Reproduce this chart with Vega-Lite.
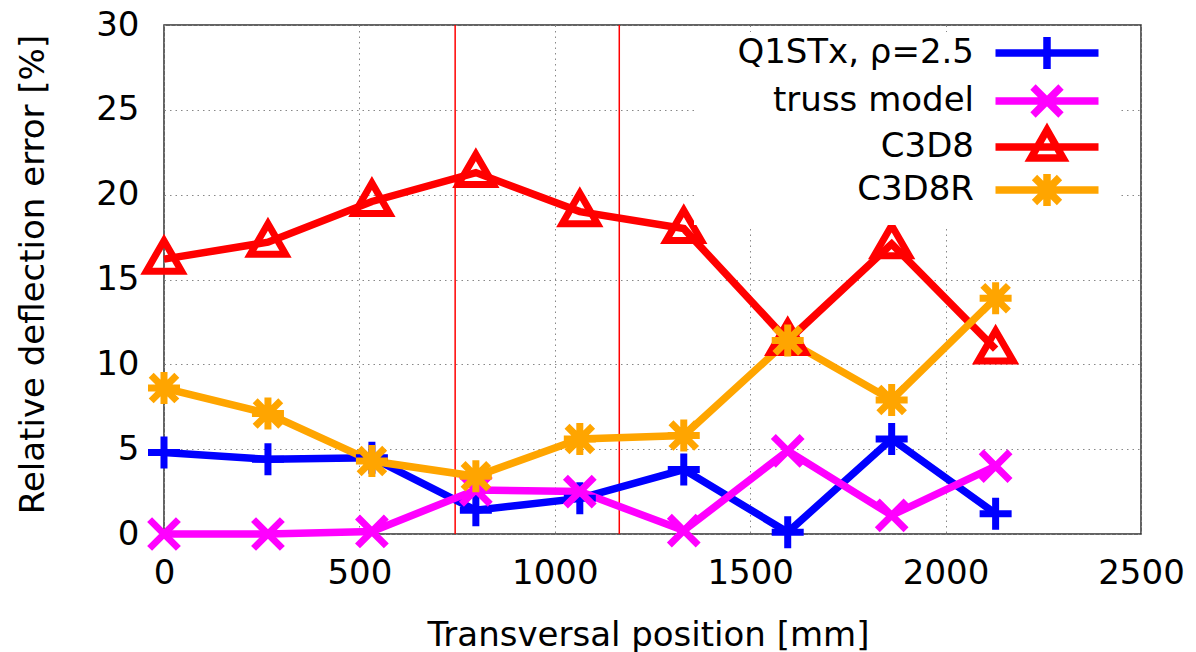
{
  "$schema": "https://vega.github.io/schema/vega-lite/v6.json",
  "width": 977,
  "height": 509,
  "autosize": {"type": "none"},
  "padding": {"left": 164, "top": 25, "right": 55, "bottom": 118},
  "background": "white",
  "config": {
    "view": {"stroke": "#303030", "strokeWidth": 1.5},
    "font": "DejaVu Sans"
  },
  "datasets": {
    "series": [
      {"pos": 0, "err": 4.8, "series": "Q1STx, ρ=2.5"},
      {"pos": 266, "err": 4.4, "series": "Q1STx, ρ=2.5"},
      {"pos": 532, "err": 4.5, "series": "Q1STx, ρ=2.5"},
      {"pos": 798, "err": 1.4, "series": "Q1STx, ρ=2.5"},
      {"pos": 1064, "err": 2.1, "series": "Q1STx, ρ=2.5"},
      {"pos": 1330, "err": 3.8, "series": "Q1STx, ρ=2.5"},
      {"pos": 1596, "err": 0.1, "series": "Q1STx, ρ=2.5"},
      {"pos": 1862, "err": 5.6, "series": "Q1STx, ρ=2.5"},
      {"pos": 2128, "err": 1.2, "series": "Q1STx, ρ=2.5"},
      {"pos": 0, "err": 0.0, "series": "truss model"},
      {"pos": 266, "err": 0.0, "series": "truss model"},
      {"pos": 532, "err": 0.15, "series": "truss model"},
      {"pos": 798, "err": 2.6, "series": "truss model"},
      {"pos": 1064, "err": 2.5, "series": "truss model"},
      {"pos": 1330, "err": 0.2, "series": "truss model"},
      {"pos": 1596, "err": 4.9, "series": "truss model"},
      {"pos": 1862, "err": 1.1, "series": "truss model"},
      {"pos": 2128, "err": 4.0, "series": "truss model"},
      {"pos": 0, "err": 16.2, "series": "C3D8"},
      {"pos": 266, "err": 17.2, "series": "C3D8"},
      {"pos": 532, "err": 19.6, "series": "C3D8"},
      {"pos": 798, "err": 21.3, "series": "C3D8"},
      {"pos": 1064, "err": 19.0, "series": "C3D8"},
      {"pos": 1330, "err": 18.0, "series": "C3D8"},
      {"pos": 1596, "err": 11.4, "series": "C3D8"},
      {"pos": 1862, "err": 17.1, "series": "C3D8"},
      {"pos": 2128, "err": 10.9, "series": "C3D8"},
      {"pos": 0, "err": 8.6, "series": "C3D8R"},
      {"pos": 266, "err": 7.1, "series": "C3D8R"},
      {"pos": 532, "err": 4.3, "series": "C3D8R"},
      {"pos": 798, "err": 3.4, "series": "C3D8R"},
      {"pos": 1064, "err": 5.6, "series": "C3D8R"},
      {"pos": 1330, "err": 5.8, "series": "C3D8R"},
      {"pos": 1596, "err": 11.4, "series": "C3D8R"},
      {"pos": 1862, "err": 7.9, "series": "C3D8R"},
      {"pos": 2128, "err": 13.9, "series": "C3D8R"}
    ],
    "marks": [
      {"pos": 745},
      {"pos": 1165}
    ]
  },
  "encoding": {
    "x": {
      "field": "pos", "type": "quantitative",
      "scale": {"domain": [0, 2500], "nice": false, "zero": false},
      "axis": {
        "title": "Transversal position [mm]",
        "values": [0, 500, 1000, 1500, 2000, 2500],
        "format": "d",
        "grid": true, "gridDash": [1.5, 4], "gridColor": "#888888", "gridWidth": 1,
        "domain": false, "ticks": false,
        "labelFontSize": 34, "labelColor": "black", "labelPadding": 22, "labelFlush": false,
        "titleFontSize": 34, "titleFontWeight": "normal", "titleColor": "black",
        "titleX": 484, "titleY": 111, "titleBaseline": "alphabetic"
      }
    }
  },
  "layer": [
    {
      "data": {"name": "marks"},
      "mark": {"type": "rule", "color": "#ff0000", "strokeWidth": 1.5},
      "encoding": {}
    },
    {
      "data": {"name": "series"},
      "mark": {"type": "line", "strokeWidth": 7.5, "strokeJoin": "miter"},
      "encoding": {
        "y": {
          "field": "err", "type": "quantitative",
          "scale": {"domain": [0, 30], "nice": false},
          "axis": {
            "title": "Relative deflection error [%]",
            "values": [0, 5, 10, 15, 20, 25, 30],
            "grid": true, "gridDash": [1.5, 4], "gridColor": "#888888", "gridWidth": 1,
            "domain": false, "ticks": false,
            "labelFontSize": 34, "labelColor": "black", "labelPadding": 25, "labelFlush": false,
            "titleFontSize": 34, "titleFontWeight": "normal", "titleColor": "black",
            "titleX": -121, "titleY": 249, "titleAngle": 270, "titleBaseline": "alphabetic", "titleAlign": "center"
          }
        },
        "color": {
          "field": "series", "type": "nominal",
          "scale": {
            "domain": ["Q1STx, ρ=2.5", "truss model", "C3D8", "C3D8R"],
            "range": ["#0000ff", "#ff00ff", "#ff0000", "#ffa500"]
          },
          "legend": {
            "title": null,
            "orient": "none",
            "legendX": 530,
            "legendY": 7,
            "direction": "vertical",
            "fillColor": "white",
            "padding": 4,
            "symbolSize": 100,
            "symbolOffset": 332,
            "symbolStrokeWidth": 7.5,
            "labelFontSize": 34,
            "labelBaseline": "middle",
            "labelColor": "black",
            "labelAlign": "right",
            "labelOffset": -90,
            "labelLimit": 0,
            "rowPadding": -28,
            "encode": {
              "symbols": {
                "update": {
                  "shape": {"signal": "datum.value === 'C3D8' ? 'M-10.3,0H10.3M0,-3.4L3.2,2.2H-3.2Z' : datum.value === 'C3D8R' ? 'M-10.3,0H10.3M0,-3.2V3.2M-2.5,-2.5L2.5,2.5M-2.5,2.5L2.5,-2.5' : datum.value === 'truss model' ? 'M-10.3,0H10.3M-2.8,-2.8L2.8,2.8M-2.8,2.8L2.8,-2.8' : 'M-10.3,0H10.3M0,-3.2V3.2'"},
                  "fill": {"value": "transparent"}
                }
              }
            }
          }
        },
        "order": {"field": "pos", "type": "quantitative"}
      }
    },
    {
      "data": {"name": "series"},
      "transform": [{"filter": "datum.series === 'Q1STx, ρ=2.5'"}],
      "mark": {"type": "point", "filled": false, "strokeWidth": 7, "size": 1024, "opacity": 1, "shape": "M-1,0H1M0,-1V1"},
      "encoding": {
        "y": {"field": "err", "type": "quantitative", "scale": {"domain": [0, 30], "nice": false}},
        "color": {"field": "series", "type": "nominal", "legend": null}
      }
    },
    {
      "data": {"name": "series"},
      "transform": [{"filter": "datum.series === 'truss model'"}],
      "mark": {"type": "point", "filled": false, "strokeWidth": 7, "size": 1024, "opacity": 1, "shape": "M-0.9,-0.9L0.9,0.9M-0.9,0.9L0.9,-0.9"},
      "encoding": {
        "y": {"field": "err", "type": "quantitative", "scale": {"domain": [0, 30], "nice": false}},
        "color": {"field": "series", "type": "nominal", "legend": null}
      }
    },
    {
      "data": {"name": "series"},
      "transform": [{"filter": "datum.series === 'C3D8'"}],
      "mark": {"type": "point", "filled": false, "strokeWidth": 7, "size": 1024, "opacity": 1, "shape": "M0,-1.15L1.1,0.75H-1.1Z"},
      "encoding": {
        "y": {"field": "err", "type": "quantitative", "scale": {"domain": [0, 30], "nice": false}},
        "color": {"field": "series", "type": "nominal", "legend": null}
      }
    },
    {
      "data": {"name": "series"},
      "transform": [{"filter": "datum.series === 'C3D8R'"}],
      "mark": {"type": "point", "filled": false, "strokeWidth": 7, "size": 1024, "opacity": 1, "shape": "M-1,0H1M0,-1V1M-0.8,-0.8L0.8,0.8M-0.8,0.8L0.8,-0.8"},
      "encoding": {
        "y": {"field": "err", "type": "quantitative", "scale": {"domain": [0, 30], "nice": false}},
        "color": {"field": "series", "type": "nominal", "legend": null}
      }
    }
  ]
}
